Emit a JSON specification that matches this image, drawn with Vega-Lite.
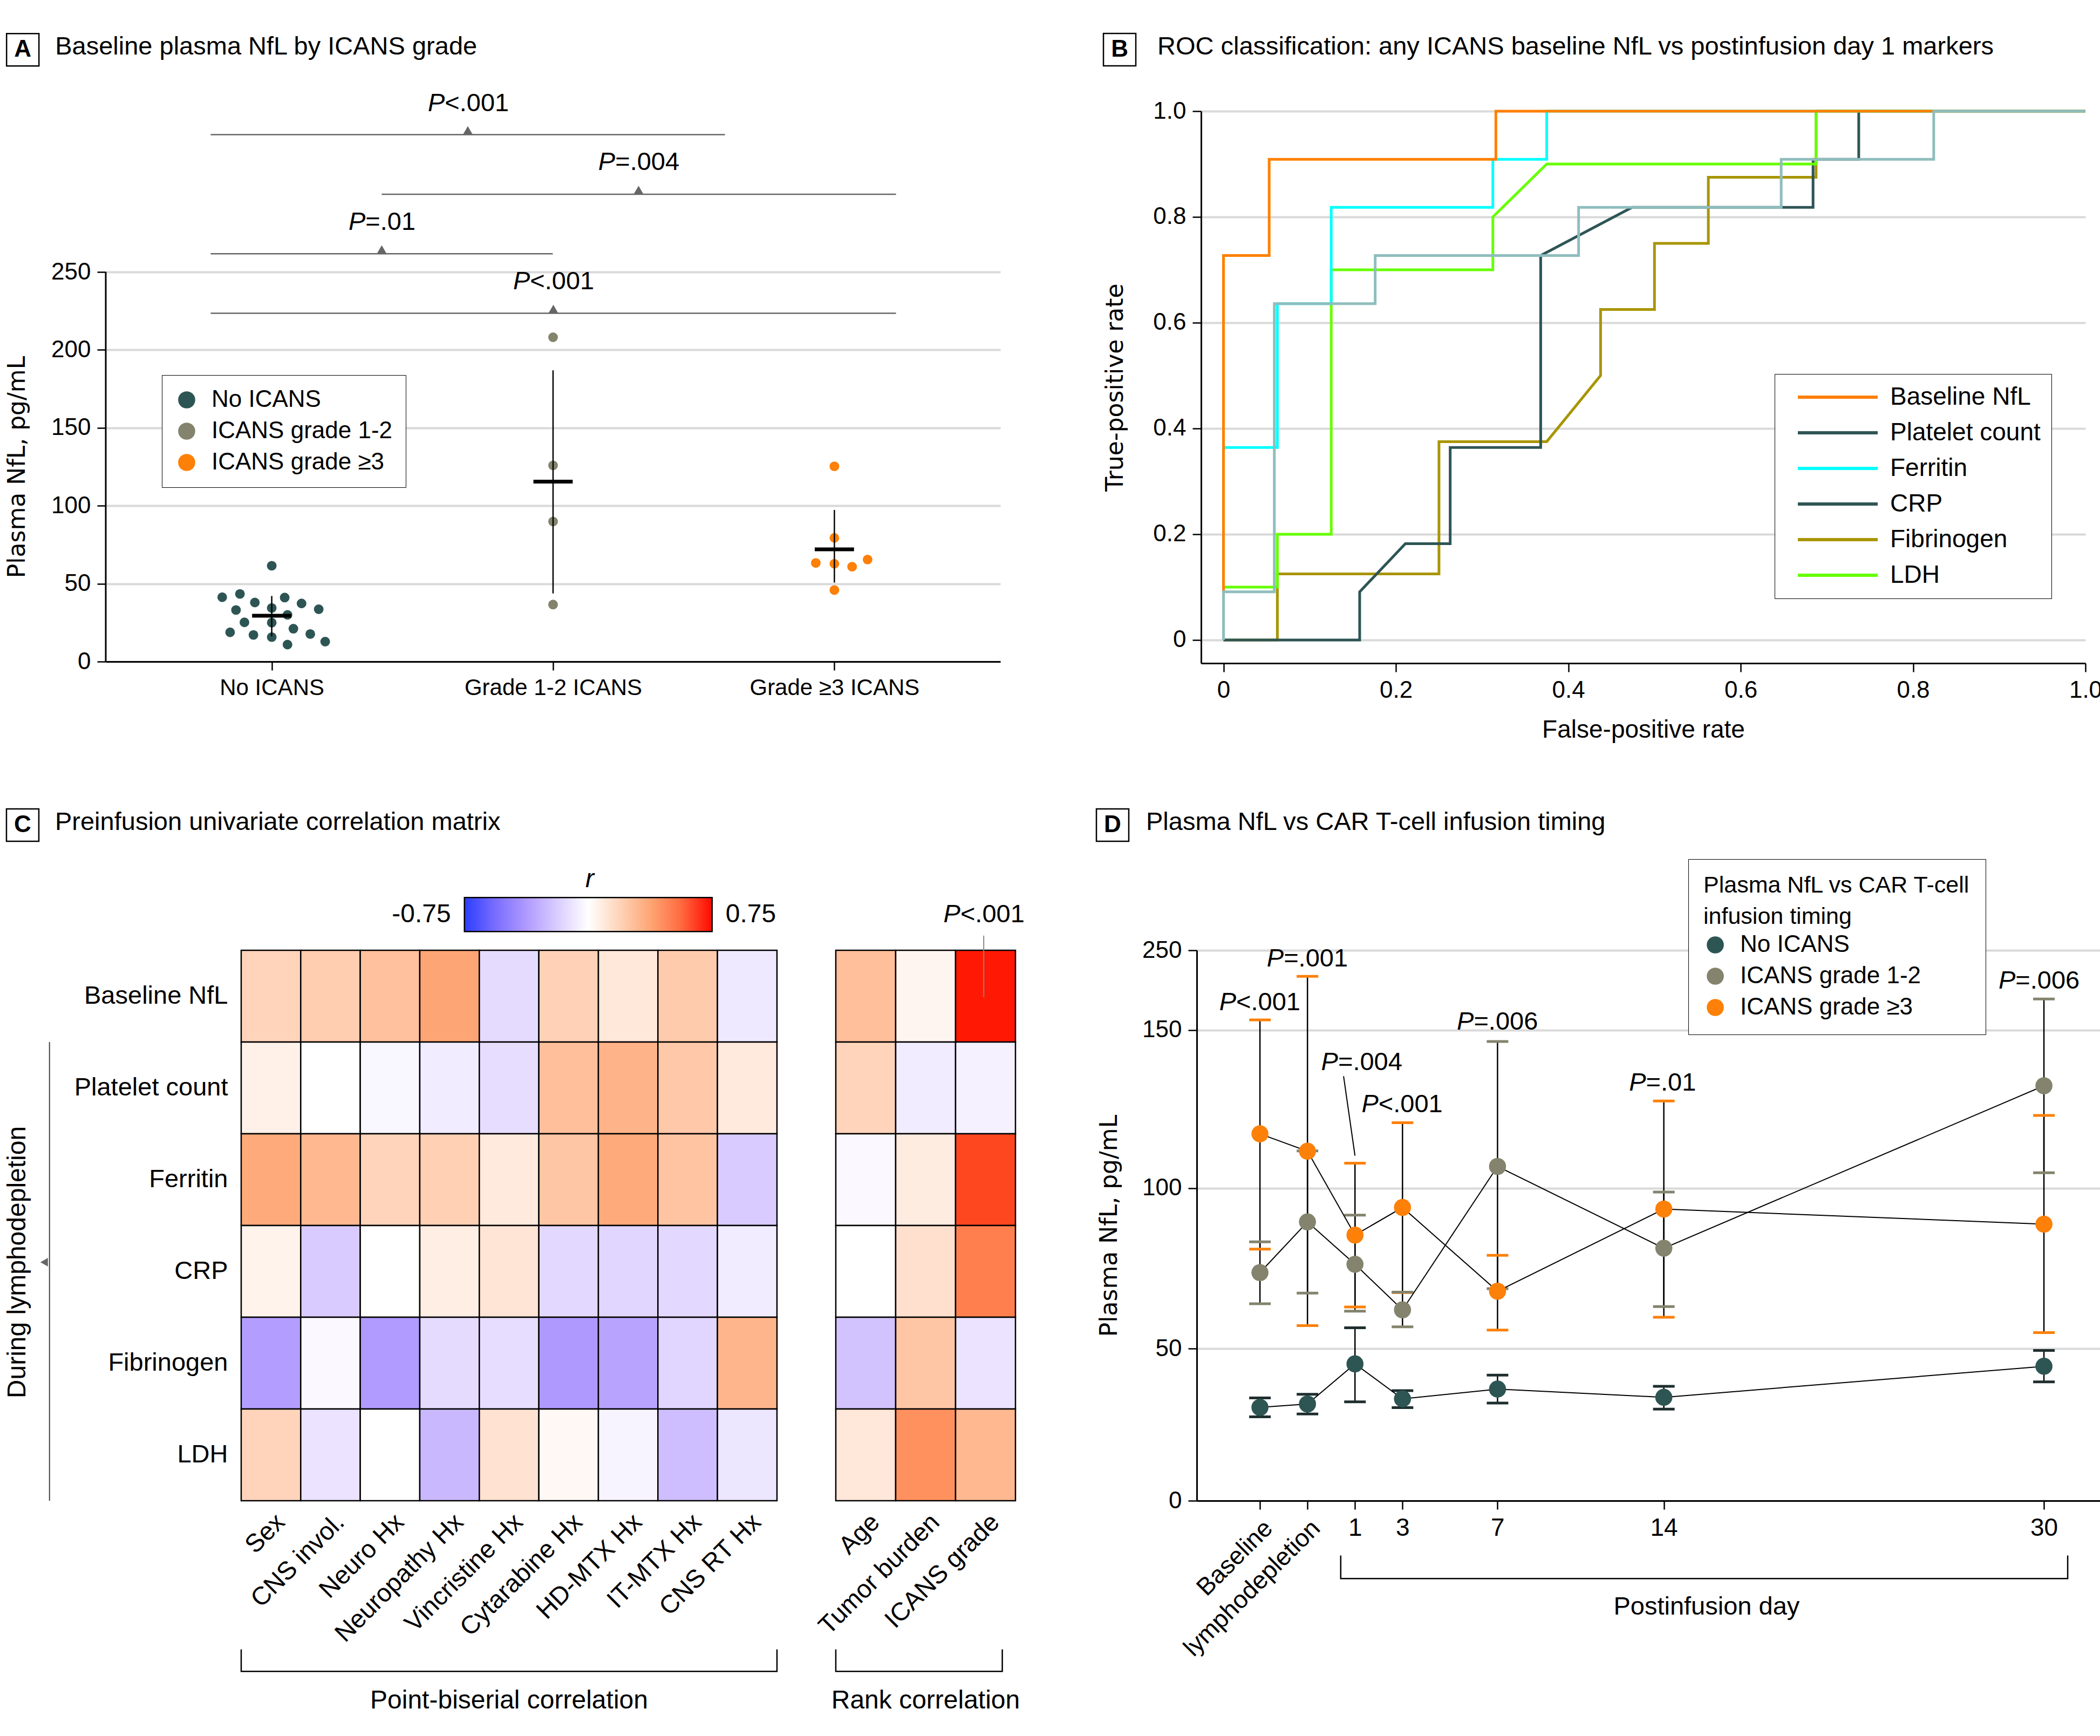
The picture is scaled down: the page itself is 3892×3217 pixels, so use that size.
{
  "$schema": "https://vega.github.io/schema/vega-lite/v6.json",
  "background": "white",
  "padding": {"left": 6, "top": 57, "right": 2, "bottom": 2},
  "config": {
    "font": "Liberation Sans",
    "view": {"stroke": null},
    "title": {"fontSize": 47, "fontWeight": "normal", "anchor": "start", "color": "#000", "font": "Liberation Sans"},
    "axis": {"labelFontSize": 44, "titleFontSize": 46, "titleFontWeight": "normal", "labelColor": "#000", "titleColor": "#000", "domainColor": "#000", "tickColor": "#000", "domainWidth": 3, "tickWidth": 2.5, "tickSize": 16, "labelPadding": 12, "gridColor": "#d9d9d9", "gridWidth": 4, "labelFont": "Liberation Sans", "titleFont": "Liberation Sans", "labelFlush": false, "labelOverlap": false, "labelLimit": 0},
    "legend": {"labelFontSize": 44, "titleFontSize": 44, "titleFontWeight": "normal", "labelColor": "#000", "titleColor": "#000", "labelFont": "Liberation Sans", "titleFont": "Liberation Sans", "labelLimit": 0, "titleLimit": 0},
    "text": {"font": "Liberation Sans", "fontSize": 47, "color": "#000"}
  },
  "datasets": {
    "apts": [
      {"g": "No ICANS", "x": 0, "v": 61.5}, {"g": "No ICANS", "x": -0.176, "v": 41.3}, {"g": "No ICANS", "x": -0.113, "v": 43.4},
      {"g": "No ICANS", "x": -0.06, "v": 37.9}, {"g": "No ICANS", "x": 0.046, "v": 41.1}, {"g": "No ICANS", "x": 0.106, "v": 37.3},
      {"g": "No ICANS", "x": 0.167, "v": 33.6}, {"g": "No ICANS", "x": -0.127, "v": 33.1}, {"g": "No ICANS", "x": 0, "v": 34.4},
      {"g": "No ICANS", "x": 0.056, "v": 30.0}, {"g": "No ICANS", "x": -0.097, "v": 25.2}, {"g": "No ICANS", "x": 0, "v": 25.0},
      {"g": "No ICANS", "x": -0.148, "v": 18.8}, {"g": "No ICANS", "x": -0.065, "v": 17.1}, {"g": "No ICANS", "x": 0, "v": 15.7},
      {"g": "No ICANS", "x": 0.077, "v": 21.1}, {"g": "No ICANS", "x": 0.137, "v": 17.7}, {"g": "No ICANS", "x": 0.056, "v": 10.9},
      {"g": "No ICANS", "x": 0.19, "v": 12.8},
      {"g": "ICANS grade 1-2", "x": 1, "v": 208.1}, {"g": "ICANS grade 1-2", "x": 1, "v": 125.9}, {"g": "ICANS grade 1-2", "x": 1, "v": 89.9}, {"g": "ICANS grade 1-2", "x": 1, "v": 36.6},
      {"g": "ICANS grade ≥3", "x": 2, "v": 125.3}, {"g": "ICANS grade ≥3", "x": 2, "v": 79.4}, {"g": "ICANS grade ≥3", "x": 1.934, "v": 63.3},
      {"g": "ICANS grade ≥3", "x": 2, "v": 62.8}, {"g": "ICANS grade ≥3", "x": 2.063, "v": 60.9}, {"g": "ICANS grade ≥3", "x": 2.118, "v": 65.5},
      {"g": "ICANS grade ≥3", "x": 2, "v": 45.9}
    ],
    "astat": [
      {"g": "No ICANS", "x": 0, "mean": 29.4, "lo": 16.2, "hi": 42.1},
      {"g": "ICANS grade 1-2", "x": 1, "mean": 115.5, "lo": 43.7, "hi": 186.9},
      {"g": "ICANS grade ≥3", "x": 2, "mean": 72.0, "lo": 50.7, "hi": 97.3}
    ],
    "abr": [
      {"x1": -0.217, "x2": 1.611, "y": 338.1, "tx": 0.697},
      {"x1": 0.391, "x2": 2.219, "y": 299.9, "tx": 1.304},
      {"x1": -0.217, "x2": 0.999, "y": 261.7, "tx": 0.391},
      {"x1": -0.217, "x2": 2.219, "y": 223.5, "tx": 1.001}
    ],
    "ap": [
      {"x": 0.615, "y": 358.1, "p": "P", "rest": "<.001"},
      {"x": 1.221, "y": 320.2, "p": "P", "rest": "=.004"},
      {"x": 0.333, "y": 281.7, "p": "P", "rest": "=.01"},
      {"x": 0.918, "y": 243.8, "p": "P", "rest": "<.001"}
    ],
    "roc": [
      {"m": "Fibrinogen", "i": 0, "fpr": 0, "tpr": 0}, {"m": "Fibrinogen", "i": 1, "fpr": 0.0625, "tpr": 0}, {"m": "Fibrinogen", "i": 2, "fpr": 0.0625, "tpr": 0.125},
      {"m": "Fibrinogen", "i": 3, "fpr": 0.25, "tpr": 0.125}, {"m": "Fibrinogen", "i": 4, "fpr": 0.25, "tpr": 0.375}, {"m": "Fibrinogen", "i": 5, "fpr": 0.375, "tpr": 0.375},
      {"m": "Fibrinogen", "i": 6, "fpr": 0.4375, "tpr": 0.5}, {"m": "Fibrinogen", "i": 7, "fpr": 0.4375, "tpr": 0.625}, {"m": "Fibrinogen", "i": 8, "fpr": 0.5, "tpr": 0.625},
      {"m": "Fibrinogen", "i": 9, "fpr": 0.5, "tpr": 0.75}, {"m": "Fibrinogen", "i": 10, "fpr": 0.5625, "tpr": 0.75}, {"m": "Fibrinogen", "i": 11, "fpr": 0.5625, "tpr": 0.875},
      {"m": "Fibrinogen", "i": 12, "fpr": 0.6875, "tpr": 0.875}, {"m": "Fibrinogen", "i": 13, "fpr": 0.6875, "tpr": 1}, {"m": "Fibrinogen", "i": 14, "fpr": 1, "tpr": 1},
      {"m": "CRP", "i": 0, "fpr": 0, "tpr": 0}, {"m": "CRP", "i": 1, "fpr": 0.158, "tpr": 0}, {"m": "CRP", "i": 2, "fpr": 0.158, "tpr": 0.091},
      {"m": "CRP", "i": 3, "fpr": 0.211, "tpr": 0.182}, {"m": "CRP", "i": 4, "fpr": 0.263, "tpr": 0.182}, {"m": "CRP", "i": 5, "fpr": 0.263, "tpr": 0.364},
      {"m": "CRP", "i": 6, "fpr": 0.368, "tpr": 0.364}, {"m": "CRP", "i": 7, "fpr": 0.368, "tpr": 0.727}, {"m": "CRP", "i": 8, "fpr": 0.474, "tpr": 0.818},
      {"m": "CRP", "i": 9, "fpr": 0.684, "tpr": 0.818}, {"m": "CRP", "i": 10, "fpr": 0.684, "tpr": 0.909}, {"m": "CRP", "i": 11, "fpr": 0.737, "tpr": 0.909},
      {"m": "CRP", "i": 12, "fpr": 0.737, "tpr": 1}, {"m": "CRP", "i": 13, "fpr": 1, "tpr": 1},
      {"m": "LDH", "i": 0, "fpr": 0, "tpr": 0}, {"m": "LDH", "i": 1, "fpr": 0, "tpr": 0.1}, {"m": "LDH", "i": 2, "fpr": 0.0625, "tpr": 0.1},
      {"m": "LDH", "i": 3, "fpr": 0.0625, "tpr": 0.2}, {"m": "LDH", "i": 4, "fpr": 0.125, "tpr": 0.2}, {"m": "LDH", "i": 5, "fpr": 0.125, "tpr": 0.7},
      {"m": "LDH", "i": 6, "fpr": 0.3125, "tpr": 0.7}, {"m": "LDH", "i": 7, "fpr": 0.3125, "tpr": 0.8}, {"m": "LDH", "i": 8, "fpr": 0.375, "tpr": 0.9},
      {"m": "LDH", "i": 9, "fpr": 0.6875, "tpr": 0.9}, {"m": "LDH", "i": 10, "fpr": 0.6875, "tpr": 1}, {"m": "LDH", "i": 11, "fpr": 1, "tpr": 1},
      {"m": "Ferritin", "i": 0, "fpr": 0, "tpr": 0}, {"m": "Ferritin", "i": 1, "fpr": 0, "tpr": 0.364}, {"m": "Ferritin", "i": 2, "fpr": 0.0625, "tpr": 0.364},
      {"m": "Ferritin", "i": 3, "fpr": 0.0625, "tpr": 0.636}, {"m": "Ferritin", "i": 4, "fpr": 0.125, "tpr": 0.636}, {"m": "Ferritin", "i": 5, "fpr": 0.125, "tpr": 0.818},
      {"m": "Ferritin", "i": 6, "fpr": 0.3125, "tpr": 0.818}, {"m": "Ferritin", "i": 7, "fpr": 0.3125, "tpr": 0.909}, {"m": "Ferritin", "i": 8, "fpr": 0.375, "tpr": 0.909},
      {"m": "Ferritin", "i": 9, "fpr": 0.375, "tpr": 1}, {"m": "Ferritin", "i": 10, "fpr": 1, "tpr": 1},
      {"m": "Baseline NfL", "i": 0, "fpr": 0, "tpr": 0}, {"m": "Baseline NfL", "i": 1, "fpr": 0, "tpr": 0.727}, {"m": "Baseline NfL", "i": 2, "fpr": 0.053, "tpr": 0.727},
      {"m": "Baseline NfL", "i": 3, "fpr": 0.053, "tpr": 0.909}, {"m": "Baseline NfL", "i": 4, "fpr": 0.316, "tpr": 0.909}, {"m": "Baseline NfL", "i": 5, "fpr": 0.316, "tpr": 1},
      {"m": "Baseline NfL", "i": 6, "fpr": 1, "tpr": 1}
    ],
    "rocp": [
      {"i": 0, "fpr": 0, "tpr": 0}, {"i": 1, "fpr": 0, "tpr": 0.091}, {"i": 2, "fpr": 0.059, "tpr": 0.091}, {"i": 3, "fpr": 0.059, "tpr": 0.636},
      {"i": 4, "fpr": 0.176, "tpr": 0.636}, {"i": 5, "fpr": 0.176, "tpr": 0.727}, {"i": 6, "fpr": 0.412, "tpr": 0.727}, {"i": 7, "fpr": 0.412, "tpr": 0.818},
      {"i": 8, "fpr": 0.647, "tpr": 0.818}, {"i": 9, "fpr": 0.647, "tpr": 0.909}, {"i": 10, "fpr": 0.824, "tpr": 0.909}, {"i": 11, "fpr": 0.824, "tpr": 1},
      {"i": 12, "fpr": 1, "tpr": 1}
    ],
    "pb": [
      {"row": "Baseline NfL", "col": "Sex", "r": 0.18}, {"row": "Baseline NfL", "col": "CNS invol.", "r": 0.21}, {"row": "Baseline NfL", "col": "Neuro Hx", "r": 0.26},
      {"row": "Baseline NfL", "col": "Neuropathy Hx", "r": 0.38}, {"row": "Baseline NfL", "col": "Vincristine Hx", "r": -0.13}, {"row": "Baseline NfL", "col": "Cytarabine Hx", "r": 0.19},
      {"row": "Baseline NfL", "col": "HD-MTX Hx", "r": 0.1}, {"row": "Baseline NfL", "col": "IT-MTX Hx", "r": 0.22}, {"row": "Baseline NfL", "col": "CNS RT Hx", "r": -0.08},
      {"row": "Platelet count", "col": "Sex", "r": 0.06}, {"row": "Platelet count", "col": "CNS invol.", "r": 0.0}, {"row": "Platelet count", "col": "Neuro Hx", "r": -0.03},
      {"row": "Platelet count", "col": "Neuropathy Hx", "r": -0.07}, {"row": "Platelet count", "col": "Vincristine Hx", "r": -0.12}, {"row": "Platelet count", "col": "Cytarabine Hx", "r": 0.27},
      {"row": "Platelet count", "col": "HD-MTX Hx", "r": 0.32}, {"row": "Platelet count", "col": "IT-MTX Hx", "r": 0.23}, {"row": "Platelet count", "col": "CNS RT Hx", "r": 0.09},
      {"row": "Ferritin", "col": "Sex", "r": 0.36}, {"row": "Ferritin", "col": "CNS invol.", "r": 0.3}, {"row": "Ferritin", "col": "Neuro Hx", "r": 0.18},
      {"row": "Ferritin", "col": "Neuropathy Hx", "r": 0.2}, {"row": "Ferritin", "col": "Vincristine Hx", "r": 0.09}, {"row": "Ferritin", "col": "Cytarabine Hx", "r": 0.24},
      {"row": "Ferritin", "col": "HD-MTX Hx", "r": 0.36}, {"row": "Ferritin", "col": "IT-MTX Hx", "r": 0.25}, {"row": "Ferritin", "col": "CNS RT Hx", "r": -0.19},
      {"row": "CRP", "col": "Sex", "r": 0.05}, {"row": "CRP", "col": "CNS invol.", "r": -0.19}, {"row": "CRP", "col": "Neuro Hx", "r": 0.0},
      {"row": "CRP", "col": "Neuropathy Hx", "r": 0.07}, {"row": "CRP", "col": "Vincristine Hx", "r": 0.11}, {"row": "CRP", "col": "Cytarabine Hx", "r": -0.14},
      {"row": "CRP", "col": "HD-MTX Hx", "r": -0.15}, {"row": "CRP", "col": "IT-MTX Hx", "r": -0.14}, {"row": "CRP", "col": "CNS RT Hx", "r": -0.07},
      {"row": "Fibrinogen", "col": "Sex", "r": -0.36}, {"row": "Fibrinogen", "col": "CNS invol.", "r": -0.02}, {"row": "Fibrinogen", "col": "Neuro Hx", "r": -0.37},
      {"row": "Fibrinogen", "col": "Neuropathy Hx", "r": -0.13}, {"row": "Fibrinogen", "col": "Vincristine Hx", "r": -0.12}, {"row": "Fibrinogen", "col": "Cytarabine Hx", "r": -0.38},
      {"row": "Fibrinogen", "col": "HD-MTX Hx", "r": -0.34}, {"row": "Fibrinogen", "col": "IT-MTX Hx", "r": -0.15}, {"row": "Fibrinogen", "col": "CNS RT Hx", "r": 0.31},
      {"row": "LDH", "col": "Sex", "r": 0.18}, {"row": "LDH", "col": "CNS invol.", "r": -0.1}, {"row": "LDH", "col": "Neuro Hx", "r": 0.0},
      {"row": "LDH", "col": "Neuropathy Hx", "r": -0.26}, {"row": "LDH", "col": "Vincristine Hx", "r": 0.12}, {"row": "LDH", "col": "Cytarabine Hx", "r": 0.03},
      {"row": "LDH", "col": "HD-MTX Hx", "r": -0.04}, {"row": "LDH", "col": "IT-MTX Hx", "r": -0.24}, {"row": "LDH", "col": "CNS RT Hx", "r": -0.09}
    ],
    "rk": [
      {"row": "Baseline NfL", "col": "Age", "r": 0.27}, {"row": "Baseline NfL", "col": "Tumor burden", "r": 0.04}, {"row": "Baseline NfL", "col": "ICANS grade", "r": 0.74},
      {"row": "Platelet count", "col": "Age", "r": 0.18}, {"row": "Platelet count", "col": "Tumor burden", "r": -0.07}, {"row": "Platelet count", "col": "ICANS grade", "r": -0.05},
      {"row": "Ferritin", "col": "Age", "r": -0.02}, {"row": "Ferritin", "col": "Tumor burden", "r": 0.08}, {"row": "Ferritin", "col": "ICANS grade", "r": 0.67},
      {"row": "CRP", "col": "Age", "r": 0.0}, {"row": "CRP", "col": "Tumor burden", "r": 0.13}, {"row": "CRP", "col": "ICANS grade", "r": 0.51},
      {"row": "Fibrinogen", "col": "Age", "r": -0.22}, {"row": "Fibrinogen", "col": "Tumor burden", "r": 0.24}, {"row": "Fibrinogen", "col": "ICANS grade", "r": -0.1},
      {"row": "LDH", "col": "Age", "r": 0.1}, {"row": "LDH", "col": "Tumor burden", "r": 0.45}, {"row": "LDH", "col": "ICANS grade", "r": 0.3}
    ],
    "dstat": [
      {"g": "No ICANS", "day": -3, "mean": 30.7, "lo": 27.6, "hi": 33.8},
      {"g": "No ICANS", "day": -1, "mean": 31.8, "lo": 28.5, "hi": 35.0},
      {"g": "No ICANS", "day": 1, "mean": 45.0, "lo": 32.5, "hi": 56.5},
      {"g": "No ICANS", "day": 3, "mean": 33.5, "lo": 30.6, "hi": 36.2},
      {"g": "No ICANS", "day": 7, "mean": 36.7, "lo": 32.1, "hi": 41.3},
      {"g": "No ICANS", "day": 14, "mean": 34.0, "lo": 30.1, "hi": 37.6},
      {"g": "No ICANS", "day": 30, "mean": 44.2, "lo": 39.1, "hi": 49.4},
      {"g": "ICANS grade 1-2", "day": -3, "mean": 73.7, "lo": 64.0, "hi": 83.3},
      {"g": "ICANS grade 1-2", "day": -1, "mean": 89.5, "lo": 67.3, "hi": 111.8},
      {"g": "ICANS grade 1-2", "day": 1, "mean": 76.3, "lo": 61.7, "hi": 91.6},
      {"g": "ICANS grade 1-2", "day": 3, "mean": 62.1, "lo": 56.8, "hi": 67.6},
      {"g": "ICANS grade 1-2", "day": 7, "mean": 106.9, "lo": 68.7, "hi": 146.4},
      {"g": "ICANS grade 1-2", "day": 14, "mean": 81.3, "lo": 63.1, "hi": 98.8},
      {"g": "ICANS grade 1-2", "day": 30, "mean": 132.4, "lo": 104.9, "hi": 188.9},
      {"g": "ICANS grade ≥3", "day": -3, "mean": 117.2, "lo": 81.0, "hi": 162.8},
      {"g": "ICANS grade ≥3", "day": -1, "mean": 111.7, "lo": 57.2, "hi": 217.3},
      {"g": "ICANS grade ≥3", "day": 1, "mean": 85.4, "lo": 63.0, "hi": 107.9},
      {"g": "ICANS grade ≥3", "day": 3, "mean": 94.0, "lo": 67.5, "hi": 120.7},
      {"g": "ICANS grade ≥3", "day": 7, "mean": 67.9, "lo": 55.8, "hi": 79.1},
      {"g": "ICANS grade ≥3", "day": 14, "mean": 93.5, "lo": 59.8, "hi": 127.6},
      {"g": "ICANS grade ≥3", "day": 30, "mean": 88.8, "lo": 55.0, "hi": 123.0}
    ],
    "dp": [
      {"x": -4.0, "y": 184.6, "p": "P", "rest": "<.001"},
      {"x": -2.0, "y": 239, "p": "P", "rest": "=.001"},
      {"x": 0.29, "y": 139.8, "p": "P", "rest": "=.004"},
      {"x": 1.99, "y": 126.4, "p": "P", "rest": "<.001"},
      {"x": 6.0, "y": 160, "p": "P", "rest": "=.006"},
      {"x": 13.25, "y": 133.3, "p": "P", "rest": "=.01"},
      {"x": 28.8, "y": 211.6, "p": "P", "rest": "=.006"}
    ]
  },
  "columns": 1,
  "spacing": 118,
  "resolve": {"scale": {"color": "independent", "stroke": "independent"}, "legend": {"color": "independent", "stroke": "independent"}},
  "concat": [
    {
      "columns": 2,
      "spacing": 186,
      "resolve": {"scale": {"color": "independent", "stroke": "independent"}, "legend": {"color": "independent", "stroke": "independent"}},
      "concat": [
        {
          "width": 1658, "height": 1020,
          "title": {"text": "Baseline plasma NfL by ICANS grade", "offset": -54, "dx": 95},
          "layer": [
            {
              "data": {"values": [{"x": -0.885, "y": 392.6, "t": "A"}]},
              "mark": {"type": "point", "shape": "square", "size": 3600, "filled": false, "color": "#000", "strokeWidth": 2.5, "opacity": 1},
              "encoding": {
                "x": {"field": "x", "type": "quantitative", "scale": {"domain": [-0.59, 2.59], "nice": false, "zero": false},
                      "axis": {"values": [0, 1, 2], "title": null, "grid": false, "labelFontSize": 42, "labelExpr": "datum.value == 0 ? 'No ICANS' : datum.value == 1 ? 'Grade 1-2 ICANS' : 'Grade ≥3 ICANS'"}},
                "y": {"field": "y", "type": "quantitative", "scale": {"domain": [0, 353.2], "nice": false, "zero": false},
                      "axis": {"values": [0, 50, 100, 150, 200, 250], "domain": false, "title": "Plasma NfL, pg/mL", "titleFont": "DejaVu Sans", "titleFontSize": 44, "titlePadding": 40, "titleY": 659, "grid": true}}
              }
            },
            {
              "data": {"values": [{"x": -0.885, "y": 392.6, "t": "A"}]},
              "mark": {"type": "text", "fontWeight": "bold", "fontSize": 44},
              "encoding": {"x": {"field": "x", "type": "quantitative"}, "y": {"field": "y", "type": "quantitative"}, "text": {"field": "t"}}
            },
            {
              "data": {"values": [{"x": -0.59, "y": 0, "y2": 250}]},
              "mark": {"type": "rule", "color": "#000", "strokeWidth": 3},
              "encoding": {"x": {"field": "x", "type": "quantitative"}, "y": {"field": "y", "type": "quantitative"}, "y2": {"field": "y2"}}
            },
            {
              "data": {"name": "abr"},
              "mark": {"type": "rule", "color": "#666", "strokeWidth": 2.5},
              "encoding": {"x": {"field": "x1", "type": "quantitative"}, "x2": {"field": "x2"}, "y": {"field": "y", "type": "quantitative"}}
            },
            {
              "data": {"name": "abr"},
              "mark": {"type": "point", "shape": "triangle-up", "filled": true, "size": 320, "color": "#666", "opacity": 1, "yOffset": -8},
              "encoding": {"x": {"field": "tx", "type": "quantitative"}, "y": {"field": "y", "type": "quantitative"}}
            },
            {
              "data": {"name": "ap"},
              "mark": {"type": "text", "fontStyle": "italic", "align": "right", "fontSize": 47},
              "encoding": {"x": {"field": "x", "type": "quantitative"}, "y": {"field": "y", "type": "quantitative"}, "text": {"field": "p"}}
            },
            {
              "data": {"name": "ap"},
              "mark": {"type": "text", "align": "left", "fontSize": 47},
              "encoding": {"x": {"field": "x", "type": "quantitative"}, "y": {"field": "y", "type": "quantitative"}, "text": {"field": "rest"}}
            },
            {
              "data": {"name": "apts"},
              "mark": {"type": "circle", "size": 320, "opacity": 1},
              "encoding": {
                "x": {"field": "x", "type": "quantitative"},
                "y": {"field": "v", "type": "quantitative"},
                "color": {"field": "g", "type": "nominal",
                  "scale": {"domain": ["No ICANS", "ICANS grade 1-2", "ICANS grade ≥3"], "range": ["#2d5553", "#84836d", "#fd8008"]},
                  "legend": {"title": null, "orient": "none", "legendX": 104, "legendY": 489, "strokeColor": "#000", "fillColor": "#fff", "padding": 24, "labelFontSize": 44, "symbolSize": 1000, "symbolType": "circle", "rowPadding": 14, "labelOffset": 24, "symbolStrokeWidth": 0}}
              }
            },
            {
              "data": {"name": "astat"},
              "mark": {"type": "rule", "color": "#000", "strokeWidth": 2.5},
              "encoding": {"x": {"field": "x", "type": "quantitative"}, "y": {"field": "lo", "type": "quantitative"}, "y2": {"field": "hi"}}
            },
            {
              "data": {"name": "astat"},
              "mark": {"type": "point", "shape": "M-1,0H1", "size": 5300, "filled": false, "color": "#000", "strokeWidth": 7, "opacity": 1},
              "encoding": {"x": {"field": "x", "type": "quantitative"}, "y": {"field": "mean", "type": "quantitative"}}
            }
          ]
        },
        {
          "width": 1639, "height": 1023,
          "title": {"text": "ROC classification: any ICANS baseline NfL vs postinfusion day 1 markers", "offset": -54, "dx": 105},
          "layer": [
            {
              "data": {"values": [{"x": -0.1205, "y": 1.1163, "t": "B"}]},
              "mark": {"type": "point", "shape": "square", "size": 3600, "filled": false, "color": "#000", "strokeWidth": 2.5, "opacity": 1},
              "encoding": {
                "x": {"field": "x", "type": "quantitative", "scale": {"domain": [-0.026, 1.0], "nice": false, "zero": false},
                      "axis": {"values": [0, 0.2, 0.4, 0.6, 0.8, 1], "labelExpr": "datum.value == 0 ? '0' : format(datum.value, '.1f')", "title": "False-positive rate", "titlePadding": 29, "grid": false}},
                "y": {"field": "y", "type": "quantitative", "scale": {"domain": [-0.044, 1.0], "nice": false, "zero": false},
                      "axis": {"values": [0, 0.2, 0.4, 0.6, 0.8, 1], "labelExpr": "datum.value == 0 ? '0' : format(datum.value, '.1f')", "title": "True-positive rate", "titleFont": "DejaVu Sans", "titleFontSize": 44, "titlePadding": 47, "grid": true}}
              }
            },
            {
              "data": {"values": [{"x": -0.1205, "y": 1.1163, "t": "B"}]},
              "mark": {"type": "text", "fontWeight": "bold", "fontSize": 44},
              "encoding": {"x": {"field": "x", "type": "quantitative"}, "y": {"field": "y", "type": "quantitative"}, "text": {"field": "t"}}
            },
            {
              "data": {"name": "roc"},
              "mark": {"type": "line", "strokeWidth": 5},
              "encoding": {
                "x": {"field": "fpr", "type": "quantitative"},
                "y": {"field": "tpr", "type": "quantitative"},
                "order": {"field": "i"},
                "color": {"field": "m", "type": "nominal",
                  "scale": {"domain": ["Baseline NfL", "Platelet count", "Ferritin", "CRP", "Fibrinogen", "LDH"], "range": ["#ff8000", "#2e5555", "#00ffff", "#2e5555", "#a89500", "#66ff00"]},
                  "legend": {"title": null, "orient": "none", "legendX": 1063, "legendY": 487, "strokeColor": "#000", "fillColor": "#fff", "padding": 20, "symbolType": "M0,0H8", "symbolStrokeWidth": 6, "symbolSize": 1369, "labelFontSize": 46, "rowPadding": 20, "labelOffset": 148}}
              }
            },
            {
              "data": {"name": "rocp"},
              "mark": {"type": "line", "strokeWidth": 5, "color": "#8fbdbd"},
              "encoding": {"x": {"field": "fpr", "type": "quantitative"}, "y": {"field": "tpr", "type": "quantitative"}, "order": {"field": "i"}}
            }
          ]
        }
      ]
    },
    {
      "columns": 2,
      "spacing": 128,
      "resolve": {"scale": {"color": "independent", "stroke": "independent"}, "legend": {"color": "independent", "stroke": "independent"}},
      "concat": [
        {
          "title": {"text": "Preinfusion univariate correlation matrix", "offset": -54, "dx": 95},
          "spacing": 109,
          "bounds": "flush",
          "hconcat": [
            {
              "width": 1244, "height": 1020,
              "resolve": {"scale": {"x": "independent", "y": "independent"}},
              "layer": [
                {
                  "data": {"name": "pb"},
                  "mark": {"type": "rect", "stroke": "#000", "strokeWidth": 2.5},
                  "encoding": {
                    "x": {"field": "col", "type": "nominal", "sort": ["Sex", "CNS invol.", "Neuro Hx", "Neuropathy Hx", "Vincristine Hx", "Cytarabine Hx", "HD-MTX Hx", "IT-MTX Hx", "CNS RT Hx"],
                          "scale": {"range": [251, 1244]},
                          "axis": {"title": null, "labelAngle": -45, "labelAlign": "right", "labelBaseline": "top", "ticks": false, "domain": false, "labelPadding": 16, "labelOffset": 2, "labelFontSize": 47}},
                    "y": {"field": "row", "type": "nominal", "sort": ["Baseline NfL", "Platelet count", "Ferritin", "CRP", "Fibrinogen", "LDH"],
                          "axis": {"title": null, "ticks": false, "domain": false, "labelPadding": 25, "labelFontSize": 47, "offset": -251}},
                    "color": {"field": "r", "type": "quantitative",
                      "scale": {"domain": [-0.75, -0.375, 0, 0.375, 0.75], "range": ["#2b3eff", "#b09aff", "#ffffff", "#fda675", "#ff0a00"], "interpolate": "lab"},
                      "legend": null}
                  }
                },
                {
                  "layer": [
                    {
                      "data": {"values": [{"x": -3.671, "y": -1.365, "t": "C"}]},
                      "mark": {"type": "point", "shape": "square", "size": 3600, "filled": false, "color": "#000", "strokeWidth": 2.5, "opacity": 1},
                      "encoding": {
                        "x": {"field": "x", "type": "quantitative", "scale": {"domain": [-2.275, 9], "nice": false, "zero": false}, "axis": null},
                        "y": {"field": "y", "type": "quantitative", "scale": {"domain": [0, 6], "reverse": true, "nice": false, "zero": false}, "axis": null}
                      }
                    },
                    {
                      "data": {"values": [{"x": -3.671, "y": -1.365, "t": "C"}]},
                      "mark": {"type": "text", "fontWeight": "bold", "fontSize": 44},
                      "encoding": {"x": {"field": "x", "type": "quantitative"}, "y": {"field": "y", "type": "quantitative"}, "text": {"field": "t"}}
                    },
                    {
                      "data": {"values": [{"x": 3.75, "x2": 7.91, "y": -0.575, "y2": -0.205}]},
                      "mark": {"type": "rect", "stroke": "#000", "strokeWidth": 2.5,
                        "fill": {"gradient": "linear", "x1": 0, "y1": 0, "x2": 1, "y2": 0, "stops": [
                          {"offset": 0, "color": "#2b3eff"}, {"offset": 0.125, "color": "#7a6dff"}, {"offset": 0.25, "color": "#b09aff"},
                          {"offset": 0.375, "color": "#d9cdff"}, {"offset": 0.5, "color": "#ffffff"}, {"offset": 0.625, "color": "#fed4b9"},
                          {"offset": 0.75, "color": "#fda675"}, {"offset": 0.875, "color": "#ff6a40"}, {"offset": 1, "color": "#ff0a00"}]}},
                      "encoding": {"x": {"field": "x", "type": "quantitative"}, "x2": {"field": "x2"}, "y": {"field": "y", "type": "quantitative"}, "y2": {"field": "y2"}}
                    },
                    {
                      "data": {"values": [{"x": 3.75, "y": -0.39, "t": "-0.75"}]},
                      "mark": {"type": "text", "align": "right", "dx": -25, "fontSize": 48},
                      "encoding": {"x": {"field": "x", "type": "quantitative"}, "y": {"field": "y", "type": "quantitative"}, "text": {"field": "t"}}
                    },
                    {
                      "data": {"values": [{"x": 7.91, "y": -0.39, "t": "0.75"}]},
                      "mark": {"type": "text", "align": "left", "dx": 25, "fontSize": 48},
                      "encoding": {"x": {"field": "x", "type": "quantitative"}, "y": {"field": "y", "type": "quantitative"}, "text": {"field": "t"}}
                    },
                    {
                      "data": {"values": [{"x": 5.855, "y": -0.77, "t": "r"}]},
                      "mark": {"type": "text", "fontStyle": "italic", "fontSize": 48},
                      "encoding": {"x": {"field": "x", "type": "quantitative"}, "y": {"field": "y", "type": "quantitative"}, "text": {"field": "t"}}
                    },
                    {
                      "data": {"values": [{"x": 0, "y": 7.62, "o": 0}, {"x": 0, "y": 7.86, "o": 1}, {"x": 9, "y": 7.86, "o": 2}, {"x": 9, "y": 7.62, "o": 3}]},
                      "mark": {"type": "line", "color": "#000", "strokeWidth": 2.5},
                      "encoding": {"x": {"field": "x", "type": "quantitative"}, "y": {"field": "y", "type": "quantitative"}, "order": {"field": "o"}}
                    },
                    {
                      "data": {"values": [{"x": 4.5, "y": 8.18, "t": "Point-biserial correlation"}]},
                      "mark": {"type": "text", "fontSize": 48},
                      "encoding": {"x": {"field": "x", "type": "quantitative"}, "y": {"field": "y", "type": "quantitative"}, "text": {"field": "t"}}
                    },
                    {
                      "data": {"values": [{"x": -3.22, "y": 1, "y2": 6}]},
                      "mark": {"type": "rule", "color": "#444", "strokeWidth": 2},
                      "encoding": {"x": {"field": "x", "type": "quantitative"}, "y": {"field": "y", "type": "quantitative"}, "y2": {"field": "y2"}}
                    },
                    {
                      "data": {"values": [{"x": -3.31, "y": 3.4}]},
                      "mark": {"type": "point", "shape": "triangle-left", "filled": true, "size": 260, "color": "#666", "opacity": 1},
                      "encoding": {"x": {"field": "x", "type": "quantitative"}, "y": {"field": "y", "type": "quantitative"}}
                    },
                    {
                      "data": {"values": [{"x": -3.75, "y": 3.4, "t": "During lymphodepletion"}]},
                      "mark": {"type": "text", "angle": 270, "fontSize": 48},
                      "encoding": {"x": {"field": "x", "type": "quantitative"}, "y": {"field": "y", "type": "quantitative"}, "text": {"field": "t"}}
                    }
                  ]
                }
              ]
            },
            {
              "width": 333, "height": 1020,
              "resolve": {"scale": {"x": "independent", "y": "independent"}},
              "layer": [
                {
                  "data": {"name": "rk"},
                  "mark": {"type": "rect", "stroke": "#000", "strokeWidth": 2.5},
                  "encoding": {
                    "x": {"field": "col", "type": "nominal", "sort": ["Age", "Tumor burden", "ICANS grade"],
                          "axis": {"title": null, "labelAngle": -45, "labelAlign": "right", "labelBaseline": "top", "ticks": false, "domain": false, "labelPadding": 16, "labelOffset": 2, "labelFontSize": 47}},
                    "y": {"field": "row", "type": "nominal", "sort": ["Baseline NfL", "Platelet count", "Ferritin", "CRP", "Fibrinogen", "LDH"], "axis": null},
                    "color": {"field": "r", "type": "quantitative",
                      "scale": {"domain": [-0.75, -0.375, 0, 0.375, 0.75], "range": ["#2b3eff", "#b09aff", "#ffffff", "#fda675", "#ff0a00"], "interpolate": "lab"},
                      "legend": null}
                  }
                },
                {
                  "layer": [
                    {
                      "data": {"values": [{"x": 0, "y": 7.62, "o": 0}, {"x": 0, "y": 7.86, "o": 1}, {"x": 2.78, "y": 7.86, "o": 2}, {"x": 2.78, "y": 7.62, "o": 3}]},
                      "mark": {"type": "line", "color": "#000", "strokeWidth": 2.5},
                      "encoding": {
                        "x": {"field": "x", "type": "quantitative", "scale": {"domain": [0, 3], "nice": false, "zero": false}, "axis": null},
                        "y": {"field": "y", "type": "quantitative", "scale": {"domain": [0, 6], "reverse": true, "nice": false, "zero": false}, "axis": null},
                        "order": {"field": "o"}
                      }
                    },
                    {
                      "data": {"values": [{"x": 1.5, "y": 8.18, "t": "Rank correlation"}]},
                      "mark": {"type": "text", "fontSize": 48},
                      "encoding": {"x": {"field": "x", "type": "quantitative"}, "y": {"field": "y", "type": "quantitative"}, "text": {"field": "t"}}
                    },
                    {
                      "data": {"values": [{"x": 2.47, "y": -0.16, "y2": 0.51}]},
                      "mark": {"type": "rule", "color": "#888", "strokeWidth": 2},
                      "encoding": {"x": {"field": "x", "type": "quantitative"}, "y": {"field": "y", "type": "quantitative"}, "y2": {"field": "y2"}}
                    },
                    {
                      "data": {"values": [{"x": 2.08, "y": -0.39, "p": "P", "rest": "<.001"}]},
                      "mark": {"type": "text", "fontStyle": "italic", "align": "right", "fontSize": 47},
                      "encoding": {"x": {"field": "x", "type": "quantitative"}, "y": {"field": "y", "type": "quantitative"}, "text": {"field": "p"}}
                    },
                    {
                      "data": {"values": [{"x": 2.08, "y": -0.39, "p": "P", "rest": "<.001"}]},
                      "mark": {"type": "text", "align": "left", "fontSize": 47},
                      "encoding": {"x": {"field": "x", "type": "quantitative"}, "y": {"field": "y", "type": "quantitative"}, "text": {"field": "rest"}}
                    }
                  ]
                }
              ]
            }
          ]
        },
        {
          "width": 1674, "height": 1020,
          "title": {"text": "Plasma NfL vs CAR T-cell infusion timing", "offset": -54, "dx": 97},
          "resolve": {"axis": {"x": "independent"}, "scale": {"color": "independent", "stroke": "independent"}, "legend": {"color": "independent", "stroke": "independent"}},
          "layer": [
            {
              "layer": [
                {
                  "data": {"values": [{"x": -9.203, "y": 406.9, "t": "D"}]},
                  "mark": {"type": "point", "shape": "square", "size": 3600, "filled": false, "color": "#000", "strokeWidth": 2.5, "opacity": 1},
                  "encoding": {
                    "x": {"field": "x", "type": "quantitative", "scale": {"domain": [-5.66, 32.36], "nice": false, "zero": false},
                          "axis": {"values": [1, 3, 7, 14, 30], "orient": "bottom", "title": null, "grid": false, "labelFontSize": 46}},
                    "y": {"field": "y", "type": "quantitative", "scale": {"domain": [0, 50, 100, 150, 250], "range": [1020, 738.2, 440.9, 147.9, 0], "nice": false, "zero": false},
                          "axis": {"values": [0, 50, 100, 150, 250], "title": "Plasma NfL, pg/mL", "titleFont": "DejaVu Sans", "titleFontSize": 44, "titlePadding": 38, "grid": true}}
                  }
                },
                {
                  "data": {"values": [{"x": -9.203, "y": 406.9, "t": "D"}]},
                  "mark": {"type": "text", "fontWeight": "bold", "fontSize": 44},
                  "encoding": {"x": {"field": "x", "type": "quantitative"}, "y": {"field": "y", "type": "quantitative"}, "text": {"field": "t"}}
                },
                {
                  "data": {"values": [{"x": 15.8, "y": -35, "t": "Postinfusion day"}]},
                  "mark": {"type": "text", "fontSize": 47},
                  "encoding": {"x": {"field": "x", "type": "quantitative"}, "y": {"field": "y", "type": "quantitative"}, "text": {"field": "t"}}
                },
                {
                  "data": {"name": "dstat"},
                  "mark": {"type": "rule", "color": "#000", "strokeWidth": 2.5},
                  "encoding": {"x": {"field": "day", "type": "quantitative"}, "y": {"field": "lo", "type": "quantitative"}, "y2": {"field": "hi"}}
                },
                {
                  "data": {"name": "dstat"},
                  "mark": {"type": "point", "shape": "M-1,0H1", "size": 1600, "filled": false, "strokeWidth": 5, "opacity": 1},
                  "encoding": {"x": {"field": "day", "type": "quantitative"}, "y": {"field": "lo", "type": "quantitative"},
                    "stroke": {"field": "g", "type": "nominal", "scale": {"domain": ["No ICANS", "ICANS grade 1-2", "ICANS grade ≥3"], "range": ["#1e2e2e", "#84836d", "#fd8008"]}, "legend": null}}
                },
                {
                  "data": {"name": "dstat"},
                  "mark": {"type": "point", "shape": "M-1,0H1", "size": 1600, "filled": false, "strokeWidth": 5, "opacity": 1},
                  "encoding": {"x": {"field": "day", "type": "quantitative"}, "y": {"field": "hi", "type": "quantitative"},
                    "stroke": {"field": "g", "type": "nominal", "scale": {"domain": ["No ICANS", "ICANS grade 1-2", "ICANS grade ≥3"], "range": ["#1e2e2e", "#84836d", "#fd8008"]}, "legend": null}}
                },
                {
                  "data": {"name": "dstat"},
                  "mark": {"type": "line", "color": "#000", "strokeWidth": 2},
                  "encoding": {"x": {"field": "day", "type": "quantitative"}, "y": {"field": "mean", "type": "quantitative"}, "detail": {"field": "g", "type": "nominal"}}
                }
              ]
            },
            {
              "layer": [
                {
                  "data": {"name": "dstat"},
                  "mark": {"type": "circle", "size": 1000, "opacity": 1},
                  "encoding": {
                    "x": {"field": "day", "type": "quantitative", "axis": null},
                    "y": {"field": "mean", "type": "quantitative"},
                    "color": {"field": "g", "type": "nominal",
                      "scale": {"domain": ["No ICANS", "ICANS grade 1-2", "ICANS grade ≥3"], "range": ["#2d5553", "#84836d", "#fd8008"]},
                      "legend": {"title": ["Plasma NfL vs CAR T-cell", "infusion timing"], "orient": "none", "legendX": 911, "legendY": -169, "strokeColor": "#000", "fillColor": "#fff", "padding": 28, "symbolSize": 1000, "symbolType": "circle", "labelFontSize": 44, "titleFontSize": 43, "titleLineHeight": 58, "titlePadding": 8, "rowPadding": 14, "labelOffset": 24, "symbolStrokeWidth": 0}}
                  }
                }
              ]
            },
            {
              "layer": [
                {
                  "data": {"values": [{"x": 0.52, "y": 135.4, "x2": 1.0, "y2": 110.3}]},
                  "mark": {"type": "rule", "color": "#000", "strokeWidth": 2},
                  "encoding": {"x": {"field": "x", "type": "quantitative", "axis": null}, "x2": {"field": "x2"}, "y": {"field": "y", "type": "quantitative"}, "y2": {"field": "y2"}}
                },
                {
                  "data": {"name": "dp"},
                  "mark": {"type": "text", "fontStyle": "italic", "align": "right", "fontSize": 47},
                  "encoding": {"x": {"field": "x", "type": "quantitative"}, "y": {"field": "y", "type": "quantitative"}, "text": {"field": "p"}}
                },
                {
                  "data": {"name": "dp"},
                  "mark": {"type": "text", "align": "left", "fontSize": 47},
                  "encoding": {"x": {"field": "x", "type": "quantitative"}, "y": {"field": "y", "type": "quantitative"}, "text": {"field": "rest"}}
                }
              ]
            },
            {
              "data": {"values": [{"x": 0.4, "y": -18, "o": 0}, {"x": 0.4, "y": -25.6, "o": 1}, {"x": 31.0, "y": -25.6, "o": 2}, {"x": 31.0, "y": -18, "o": 3}]},
              "mark": {"type": "line", "color": "#000", "strokeWidth": 2.5},
              "encoding": {
                "x": {"field": "x", "type": "quantitative",
                      "axis": {"values": [-3, -1], "orient": "bottom", "title": null, "grid": false, "domain": false, "labelAngle": -45, "labelFontSize": 46,
                               "labelExpr": "datum.value == -3 ? 'Baseline' : 'lymphodepletion'"}},
                "y": {"field": "y", "type": "quantitative"},
                "order": {"field": "o"}
              }
            }
          ]
        }
      ]
    }
  ]
}
